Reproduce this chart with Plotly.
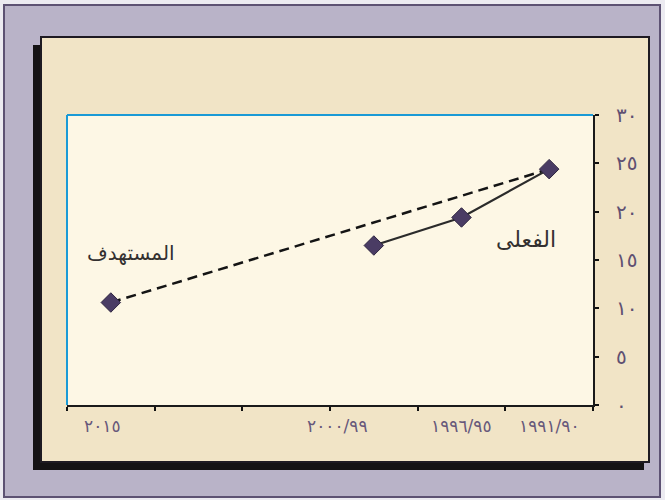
import plotly.graph_objects as go

# Period labels (Arabic-Indic digits) and their slot on the time axis
periods = ["١٩٩١/٩٠", "١٩٩٦/٩٥", "٢٠٠٠/٩٩", "٢٠١٥"]
period_slots = [0, 1, 2, 5]

# Actual values for the first three periods
actual_slots = [0, 1, 2]
actual_values = [24.4, 19.4, 16.5]

# Target path: from the base period to the 2015 goal
target_slots = [0, 5]
target_values = [24.4, 10.6]

# Y axis ticks
y_ticks = [0, 5, 10, 15, 20, 25, 30]
y_tick_text = ["٠", "٥", "١٠", "١٥", "٢٠", "٢٥", "٣٠"]

series_names = ["المستهدف", "الفعلى"]

W, H = 665, 500
PX0, PX1, PY0, PY1 = 67, 593, 115, 405  # plot area in pixels


def px(x):
    return (x - PX0) / (PX1 - PX0)


def py(y):
    return (PY1 - y) / (PY1 - PY0)


def rect(x0, y0, x1, y1, fill, line_color=None, line_width=0):
    return dict(type="rect", xref="paper", yref="paper", layer="below",
                x0=px(x0), x1=px(x1), y0=py(y1), y1=py(y0),
                fillcolor=fill,
                line=dict(color=line_color or fill, width=line_width))


def seg(x0, y0, x1, y1, color, width):
    return dict(type="line", xref="paper", yref="paper", layer="below",
                x0=px(x0), x1=px(x1), y0=py(y0), y1=py(y1),
                line=dict(color=color, width=width))


marker = dict(symbol="diamond", size=15, color="#4a3c64",
              line=dict(color="#2e2540", width=1))

fig = go.Figure()
fig.add_trace(go.Scatter(
    x=target_slots, y=target_values, mode="lines",
    line=dict(color="#141414", width=2.5, dash="10px,6px"),
    hoverinfo="skip", showlegend=False))
fig.add_trace(go.Scatter(
    x=actual_slots, y=actual_values, mode="lines",
    line=dict(color="#2b2b2b", width=2.2),
    hoverinfo="skip", showlegend=False))
fig.add_trace(go.Scatter(
    x=[target_slots[-1]], y=[target_values[-1]], mode="markers",
    marker=marker, showlegend=False))
fig.add_trace(go.Scatter(
    x=actual_slots, y=actual_values, mode="markers",
    marker=marker, showlegend=False))

shapes = [
    # outer lavender frame
    rect(4, 5, 660, 497, "#b9b3c8", "#5d5273", 2),
    # panel shadow
    rect(33, 45, 644, 470, "#141214"),
    # beige panel
    rect(41, 37, 649, 462, "#f1e4c6", "#1e1a22", 2),
    # plot area
    rect(PX0, PY0, PX1, PY1, "#fdf7e5"),
    # blue left and top edges of the plot area
    seg(PX0, PY0, PX0, PY1, "#1a9ad6", 2),
    seg(PX0, PY0, PX1, PY0, "#1a9ad6", 2),
]

annotations = []
label_shift = {"٢٠٠٠/٩٩": -36, "٢٠١٥": -8}
for lab, s in zip(periods, period_slots):
    annotations.append(dict(
        x=s, y=py(426), xref="x", yref="paper", text=lab, showarrow=False,
        xshift=label_shift.get(lab, 0),
        font=dict(family="DejaVu Sans", size=17, color="#66577a"),
        xanchor="center", yanchor="middle"))

annotations.append(dict(
    x=target_slots[-1], y=target_values[-1], xref="x", yref="y",
    text=series_names[0], showarrow=False, xshift=20, yshift=50,
    font=dict(family="DejaVu Sans", size=20, color="#333030")))
annotations.append(dict(
    x=actual_slots[0], y=actual_values[0], xref="x", yref="y",
    text=series_names[1], showarrow=False, xshift=-23, yshift=-70,
    font=dict(family="DejaVu Sans", size=22, color="#333030")))

fig.update_layout(
    width=W, height=H,
    margin=dict(l=PX0, r=W - PX1, t=PY0, b=H - PY1, pad=0),
    paper_bgcolor="#ecebf1",
    plot_bgcolor="rgba(0,0,0,0)",
    shapes=shapes,
    annotations=annotations,
    xaxis=dict(
        range=[5.5, -0.5], showgrid=False, zeroline=False,
        tickvals=[-0.5, 0.5, 1.5, 2.5, 3.5, 4.5, 5.5],
        ticktext=[""] * 7,
        ticks="outside", ticklen=4, tickwidth=2, tickcolor="#111",
        showline=True, linecolor="#1a1a1a", linewidth=2),
    yaxis=dict(
        range=[0, 30], side="right", showgrid=False, zeroline=False,
        tickvals=y_ticks, ticktext=y_tick_text,
        ticks="outside", ticklen=4, tickwidth=2, tickcolor="#111",
        ticklabelstandoff=13,
        tickfont=dict(family="DejaVu Sans", size=20, color="#5f5072"),
        showline=True, linecolor="#1a1a1a", linewidth=2),
    hovermode=False,
)

fig.write_html("out.html")
